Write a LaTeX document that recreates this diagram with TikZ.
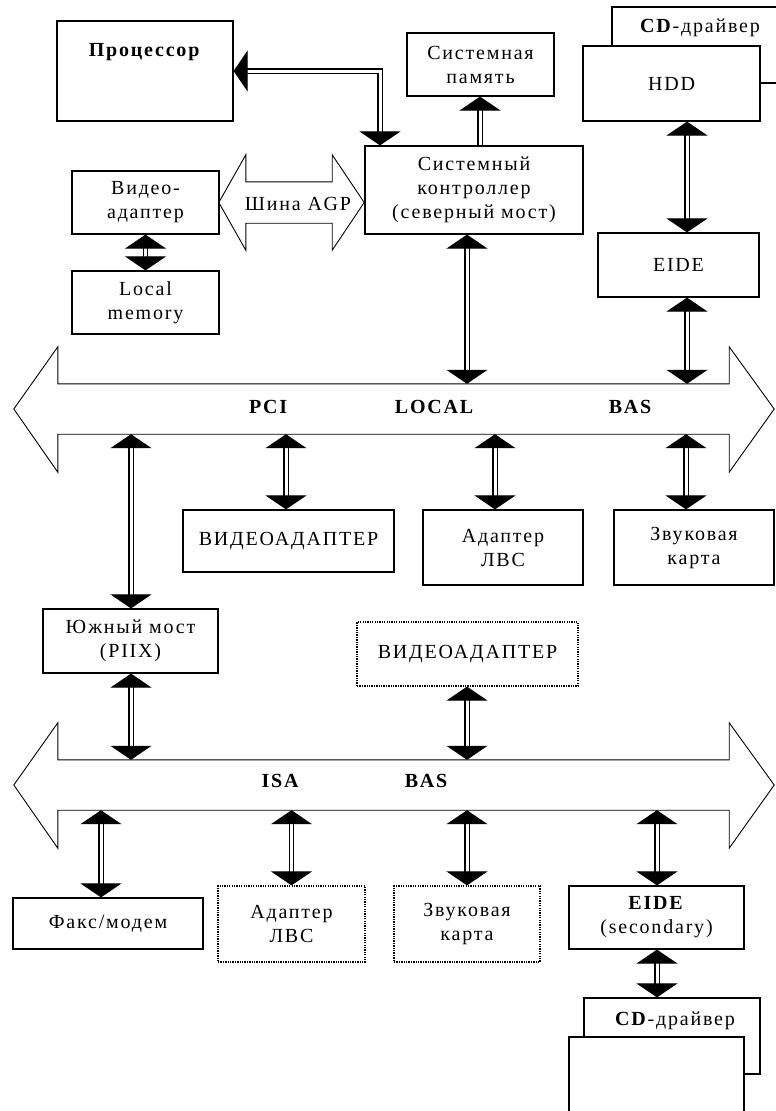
\documentclass[tikz,border=0pt]{standalone}
\usepackage{fontspec}
\setmainfont{Liberation Serif}[LetterSpace=9]
\usetikzlibrary{arrows.meta,calc}

\begin{document}
\begin{tikzpicture}[x=1pt,y=-1pt,
  every node/.style={font=\fontsize{20}{24}\selectfont, inner sep=0pt, align=center},
  box/.style={draw, line width=1.2pt, fill=white},
  dbox/.style={box, dash pattern=on 1.3pt off 1.1pt},
  shaft/.style={minimum width=#1, draw=none},
  busline/.style={line width=0.9pt},
  Big/.tip={Triangle[width=41pt,length=14pt]},
  conn/.style={double, double distance=3pt, line width=1.1pt, Big-Big},
  conn1/.style={double, double distance=3pt, line width=1.1pt, -Big}]

\clip (0,0) rectangle (776,1111);
\fill[white] (0,0) rectangle (776,1111);

% column positions of the vertical connectors
\coordinate (c380) at (380,0);
\coordinate (c480) at (480,0);
\coordinate (c687) at (687,0);
\coordinate (c467) at (467,0);
\coordinate (c131) at (131,0);
\coordinate (c286) at (286,0);
\coordinate (c495) at (495,0);
\coordinate (c686) at (686,0);
\coordinate (c101) at (101,0);
\coordinate (c657) at (657,0);

% ---- upper part ----
\node[box, minimum width=176pt, minimum height=100pt] (cpu) at (145,71) {};
\node (cpuT) at (145,52) {\textbf{Процессор}};
\node[box, minimum width=147pt, minimum height=63pt] (mem) at (480.5,64.5) {Системная\\память};
\node[box, minimum width=218pt, minimum height=88pt] (nb) at (474,190) {Системный\\контроллер\\(северный мост)};

\node[box, minimum width=177pt, minimum height=76pt] (cd1) at (700.5,45) {};
\node (cd1T) at (700,28) {\textbf{CD}-драйвер};
\node[box, minimum width=177pt, minimum height=75pt] (hdd) at (671.5,83.5) {HDD};
\node[box, minimum width=161pt, minimum height=64pt] (eide) at (678.5,265) {EIDE};

\node[box, minimum width=147pt, minimum height=63pt] (vid) at (145.5,202.5) {Видео-\\адаптер};
\node[box, minimum width=147pt, minimum height=63pt] (lmem) at (145.5,302.5) {Local\\memory};

% AGP bus: hollow double arrow
\node[shaft=86pt, minimum height=41pt] (agp) at (289,202.5) {};
\draw[busline] (agp.north west) -- (agp.north east) -- ++(0,-27) -- ($(agp.east)+(32,0)$)
  -- ($(agp.south east)+(0,27)$) -- (agp.south east) -- (agp.south west) -- ++(0,27)
  -- ($(agp.west)+(-27,0)$) -- ($(agp.north west)+(0,-27)$) -- cycle;
\node (agpT) at (298,204) {Шина AGP};

% PCI local bus
\node[shaft=671pt, minimum height=50pt] (pci) at (393.5,409) {};
\draw[busline] (pci.north west) -- (pci.north east) -- ++(0,-37) -- ($(pci.east)+(45,0)$)
  -- ($(pci.south east)+(0,38)$) -- (pci.south east) -- (pci.south west) -- ++(0,38)
  -- ($(pci.west)+(-44,0)$) -- ($(pci.north west)+(0,-37)$) -- cycle;
\node (pciA) at (269,407) {\textbf{PCI}};
\node (pciB) at (435,407) {\textbf{LOCAL}};
\node (pciC) at (631,407) {\textbf{BAS}};

\node[box, minimum width=211pt, minimum height=62pt] (video1) at (288.5,541) {ВИДЕОАДАПТЕР};
\node[box, minimum width=160pt, minimum height=75pt] (lan1) at (503,547.5) {Адаптер\\ЛВС};
\node[box, minimum width=160pt, minimum height=75pt] (snd1) at (694,547.5) {Звуковая\\карта};

\node[box, minimum width=175pt, minimum height=64pt] (sb) at (130.5,641) {Южный мост\\(PIIX)};
\node[dbox, minimum width=221pt, minimum height=64pt] (video2) at (467.5,654) {ВИДЕОАДАПТЕР};

% ISA bus
\node[shaft=671pt, minimum height=50pt] (isa) at (393.5,785) {};
\draw[busline] (isa.north west) -- (isa.north east) -- ++(0,-37) -- ($(isa.east)+(45,0)$)
  -- ($(isa.south east)+(0,38)$) -- (isa.south east) -- (isa.south west) -- ++(0,38)
  -- ($(isa.west)+(-44,0)$) -- ($(isa.north west)+(0,-37)$) -- cycle;
\node (isaA) at (281,781) {\textbf{ISA}};
\node (isaB) at (427,781) {\textbf{BAS}};

% ---- lower part ----
\node[box, minimum width=190pt, minimum height=51pt] (fax) at (108,923.5) {Факс/модем};
\node[dbox, minimum width=147pt, minimum height=76pt] (lan2) at (291.5,924) {Адаптер\\ЛВС};
\node[dbox, minimum width=146pt, minimum height=76pt] (snd2) at (467,924) {Звуковая\\карта};
\node[box, minimum width=175pt, minimum height=63pt] (eide2) at (656.5,917.5) {\textbf{EIDE}\\(secondary)};
\node[box, minimum width=176pt, minimum height=76pt] (cd2) at (672,1036) {};
\node (cd2T) at (675,1021) {\textbf{CD}-драйвер};
\node[box, minimum width=175pt, minimum height=106pt] (drv2) at (656.5,1090) {};

% ---- connectors ----
\draw[conn] (cpu.east) -| (nb.north -| c380);
\draw[conn1] (nb.north -| c480) -- (mem.south -| c480);
\draw[conn] (hdd.south -| c687) -- (eide.north -| c687);
\draw[conn] (vid.south) -- (lmem.north);
\draw[conn] (nb.south -| c467) -- (pci.north -| c467);
\draw[conn] (eide.south -| c687) -- (pci.north -| c687);
\draw[conn] (pci.south -| c131) -- (sb.north -| c131);
\draw[conn] (pci.south -| c286) -- (video1.north -| c286);
\draw[conn] (pci.south -| c495) -- (lan1.north -| c495);
\draw[conn] (pci.south -| c686) -- (snd1.north -| c686);
\draw[conn] (sb.south -| c131) -- (isa.north -| c131);
\draw[conn] (video2.south -| c467) -- (isa.north -| c467);
\draw[conn] (isa.south -| c101) -- (fax.north -| c101);
\draw[conn] (isa.south -| lan2.north) -- (lan2.north);
\draw[conn] (isa.south -| c467) -- (snd2.north -| c467);
\draw[conn] (isa.south -| c657) -- (eide2.north -| c657);
\draw[conn] (eide2.south -| c657) -- (cd2.north -| c657);
\end{tikzpicture}
\end{document}
